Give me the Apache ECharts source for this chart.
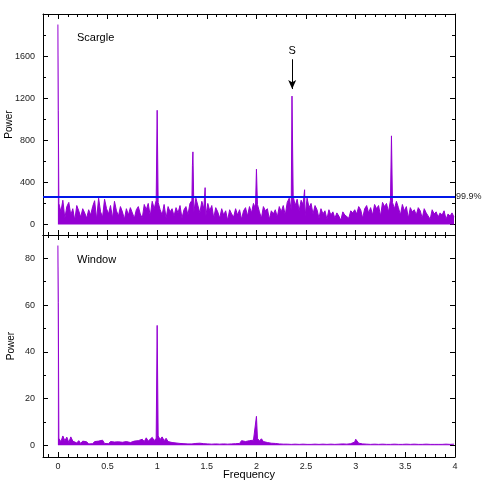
<!DOCTYPE html>
<html>
<head>
<meta charset="utf-8">
<script src="https://cdn.jsdelivr.net/npm/echarts@6/dist/echarts.min.js"></script>
<style>
  html, body { margin: 0; padding: 0; background: #fff; }
  #chart { width: 485px; height: 492px; }
</style>
</head>
<body>
<div id="chart"></div>
<script>
// noise floor, sampled every 0.02 starting at 0.01
const freqStart = 0.01
const freqStep = 0.02

const scargleNoise = [
  200, 120, 230, 60, 170, 210, 90, 150, 40, 180,
  130, 70, 150, 110, 60, 140, 90, 170, 226, 50,
  250, 120, 70, 240, 150, 100, 180, 60, 220, 130,
  80, 170, 120, 50, 150, 90, 160, 110, 60, 140,
  170, 100, 60, 190, 140, 200, 80, 220, 150, 230,
  210, 140, 90, 190, 60, 170, 120, 150, 80, 160,
  110, 180, 60, 140, 170, 90, 200, 230, 120, 250,
  240, 110, 220, 150, 80, 200, 130, 180, 60, 160,
  120, 60, 150, 90, 130, 40, 140, 100, 70, 150,
  90, 140, 50, 130, 160, 80, 170, 110, 200, 150,
  190, 120, 60, 170, 130, 150, 50, 130, 100, 140,
  70, 170, 120, 180, 90, 210, 250, 140, 270, 180,
  240, 130, 230, 190, 80, 250, 160, 200, 100, 180,
  140, 60, 150, 100, 130, 50, 140, 90, 120, 60,
  110, 80, 40, 120, 90, 100, 60, 130, 110, 140,
  100, 170, 140, 60, 150, 180, 110, 160, 90, 190,
  150, 180, 80, 210, 170, 200, 120, 230, 210, 150,
  220, 160, 90, 190, 130, 170, 60, 160, 120, 140,
  90, 160, 130, 60, 150, 110, 120, 50, 140, 100,
  120, 70, 110, 90, 130, 50, 100, 80, 110, 70
]
const scarglePeaks = [
  [0, 1900], [0.004, 1080], [1.0, 1085], [1.355, 560], [1.36, 690],
  [1.483, 350], [2.0, 525], [2.358, 1220], [2.485, 330], [3.36, 842]
]

const windowNoise = [
  3.0, 1.5, 4.0, 2.0, 3.5, 1.2, 3.6, 1.8, 2.5, 1.0,
  2.0, 0.8, 1.8, 1.0, 1.5, 0.6, 1.4, 0.7, 1.6, 0.9,
  1.8, 1.0, 2.2, 0.8, 1.5, 0.7, 1.6, 0.8, 1.4, 0.6,
  1.5, 0.7, 1.3, 0.9, 1.6, 0.8, 1.2, 1.0, 1.8, 1.2,
  2.0, 1.4, 2.6, 1.6, 3.2, 1.8, 2.4, 3.4, 2.0, 3.0,
  4.0, 2.5, 3.6, 2.0, 3.0, 1.6, 2.2, 1.2, 1.8, 1.0,
  1.6, 0.8, 1.4, 0.7, 1.2, 0.6, 1.0, 0.6, 1.2, 0.8,
  1.6, 0.9, 1.5, 0.7, 1.2, 0.6, 1.0, 0.5, 0.9, 0.6,
  1.0, 0.5, 0.9, 0.6, 0.8, 0.5, 0.9, 0.6, 1.0, 0.7,
  1.2, 0.8, 2.0, 1.2, 1.6, 1.0, 2.0, 1.4, 2.2, 2.4,
  3.0, 1.8, 2.8, 1.6, 2.4, 1.2, 1.8, 0.9, 1.4, 0.8,
  1.0, 0.6, 0.9, 0.5, 0.8, 0.5, 0.7, 0.4, 0.8, 0.5,
  0.8, 0.4, 0.7, 0.5, 0.9, 0.4, 0.6, 0.4, 0.7, 0.5,
  0.7, 0.4, 0.6, 0.5, 0.8, 0.4, 0.6, 0.5, 0.7, 0.4,
  0.8, 0.5, 1.0, 0.6, 0.9, 0.5, 0.8, 0.7, 1.0, 1.4,
  1.8, 0.9, 1.2, 0.6, 1.0, 0.5, 0.8, 0.4, 0.7, 0.5,
  0.7, 0.4, 0.6, 0.5, 0.8, 0.4, 0.6, 0.4, 0.7, 0.5,
  0.6, 0.4, 0.7, 0.4, 0.6, 0.5, 0.7, 0.4, 0.6, 0.5,
  0.7, 0.4, 0.6, 0.4, 0.7, 0.5, 0.6, 0.4, 0.6, 0.4,
  0.6, 0.4, 0.7, 0.4, 0.6, 0.5, 0.6, 0.4, 0.7, 0.5
]
const windowPeaks = [
  [0, 85.5], [0.004, 61], [1.0, 51.3], [2.0, 12.4], [3.0, 2.6]
]

// ticks
const xMajor = [0, 0.5, 1, 1.5, 2, 2.5, 3, 3.5, 4]
const xMinor = [-0.1, 0.1, 0.2, 0.3, 0.4, 0.6, 0.7, 0.8, 0.9, 1.1, 1.2, 1.3, 1.4,
  1.6, 1.7, 1.8, 1.9, 2.1, 2.2, 2.3, 2.4, 2.6, 2.7, 2.8, 2.9, 3.1, 3.2, 3.3, 3.4,
  3.6, 3.7, 3.8, 3.9]
const topMajor = [0, 400, 800, 1200, 1600]
const topMinor = [200, 600, 1000, 1400, 1800]
const botMajor = [0, 20, 40, 60, 80]
const botMinor = [10, 30, 50, 70]

const threshold = 265
const arrowFreq = 2.36
const arrowFrom = 1570
const arrowTo = 1287

function buildSeries(noise, peaks) {
  let pts = noise.map((v, i) => [+(freqStart + i * freqStep).toFixed(3), v])
  return pts.concat(peaks).sort((a, b) => a[0] - b[0])
}

const font = 'Liberation Sans, Arial, sans-serif'
const purple = '#9400d3'

function xAxisDef(grid, pos, ticks, len, showLine, labels) {
  return {
    type: 'value', gridIndex: grid, position: pos, min: -0.15, max: 4,
    axisLine: { show: showLine, onZero: false, lineStyle: { color: '#000', width: 1 } },
    axisTick: { show: true, inside: true, length: len, customValues: ticks, lineStyle: { color: '#000' } },
    axisLabel: labels ? { show: true, customValues: xMajor, formatter: v => String(v), color: '#222', fontSize: 9, fontFamily: font, margin: 5 } : { show: false },
    splitLine: { show: false }
  }
}

function yAxisDef(grid, pos, min, max, ticks, len, showLine, labels, major) {
  return {
    type: 'value', gridIndex: grid, position: pos, min: min, max: max,
    axisLine: { show: showLine, onZero: false, lineStyle: { color: '#000', width: 1 } },
    axisTick: { show: true, inside: true, length: len, customValues: ticks, lineStyle: { color: '#000' } },
    axisLabel: labels ? { show: true, customValues: major, formatter: v => String(v), color: '#222', fontSize: 9, fontFamily: font, margin: 8 } : { show: false },
    splitLine: { show: false }
  }
}

let chart = echarts.init(document.getElementById('chart'))

let xAxes = [
  xAxisDef(0, 'bottom', xMajor, 5, true, false),
  xAxisDef(0, 'top', xMajor, 5, true, false),
  xAxisDef(0, 'bottom', xMinor, 3, false, false),
  xAxisDef(0, 'top', xMinor, 3, false, false),
  xAxisDef(1, 'bottom', xMajor, 5, true, true),
  xAxisDef(1, 'top', xMajor, 5, true, false),
  xAxisDef(1, 'bottom', xMinor, 3, false, false),
  xAxisDef(1, 'top', xMinor, 3, false, false)
]
xAxes[4].name = 'Frequency'
xAxes[4].nameLocation = 'middle'
xAxes[4].nameGap = 12
xAxes[4].nameMoveOverlap = false
xAxes[4].nameTextStyle = { color: '#000', fontSize: 11, fontFamily: font }

let yAxes = [
  yAxisDef(0, 'left', -100, 2000, topMajor, 5, true, true, topMajor),
  yAxisDef(0, 'right', -100, 2000, topMajor, 5, true, false),
  yAxisDef(0, 'left', -100, 2000, topMinor, 3, false, false),
  yAxisDef(0, 'right', -100, 2000, topMinor, 3, false, false),
  yAxisDef(1, 'left', -5, 90, botMajor, 5, true, true, botMajor),
  yAxisDef(1, 'right', -5, 90, botMajor, 5, true, false),
  yAxisDef(1, 'left', -5, 90, botMinor, 3, false, false),
  yAxisDef(1, 'right', -5, 90, botMinor, 3, false, false)
]
yAxes[0].name = 'Power'
yAxes[0].nameLocation = 'middle'
yAxes[0].nameGap = 29
yAxes[0].nameMoveOverlap = false
yAxes[0].nameTextStyle = { color: '#000', fontSize: 10, fontFamily: font }
yAxes[4].name = 'Power'
yAxes[4].nameLocation = 'middle'
yAxes[4].nameGap = 27
yAxes[4].nameMoveOverlap = false
yAxes[4].nameTextStyle = { color: '#000', fontSize: 10, fontFamily: font }

let option = {
  animation: false,
  backgroundColor: '#fff',
  title: [
    { text: 'Scargle', left: 72, top: 27, textStyle: { fontSize: 11, fontWeight: 'normal', color: '#000', fontFamily: font } },
    { text: 'Window', left: 72, top: 249, textStyle: { fontSize: 11, fontWeight: 'normal', color: '#000', fontFamily: font } }
  ],
  grid: [
    { left: 43, right: 30, top: 14, height: 221, containLabel: false, outerBoundsMode: 'none' },
    { left: 43, right: 30, top: 235, height: 222, containLabel: false, outerBoundsMode: 'none' }
  ],
  xAxis: xAxes,
  yAxis: yAxes,
  series: [
    {
      name: 'Scargle',
      type: 'line',
      xAxisIndex: 0, yAxisIndex: 0,
      data: buildSeries(scargleNoise, scarglePeaks),
      showSymbol: false,
      lineStyle: { color: purple, width: 1 },
      areaStyle: { color: purple, opacity: 1 },
      markLine: {
        silent: true,
        symbol: 'none',
        lineStyle: { color: '#0018e8', width: 2, type: 'solid' },
        label: { position: 'end', formatter: '99.9%', color: '#222', fontSize: 9, fontFamily: font, distance: 1 },
        data: [{ yAxis: threshold }]
      }
    },
    {
      name: 'arrow',
      type: 'line',
      xAxisIndex: 0, yAxisIndex: 0,
      data: [],
      markLine: {
        silent: true,
        symbol: ['none', 'arrow'],
        symbolSize: [6, 9],
        lineStyle: { color: '#000', width: 1, type: 'solid' },
        label: { position: 'start', formatter: 'S', color: '#000', fontSize: 11, fontFamily: font, distance: 3 },
        data: [[{ coord: [arrowFreq, arrowFrom] }, { coord: [arrowFreq, arrowTo] }]]
      }
    },
    {
      name: 'Window',
      type: 'line',
      xAxisIndex: 4, yAxisIndex: 4,
      data: buildSeries(windowNoise, windowPeaks),
      showSymbol: false,
      lineStyle: { color: purple, width: 1 },
      areaStyle: { color: purple, opacity: 1 }
    }
  ]
}

chart.setOption(option)
</script>
</body>
</html>
